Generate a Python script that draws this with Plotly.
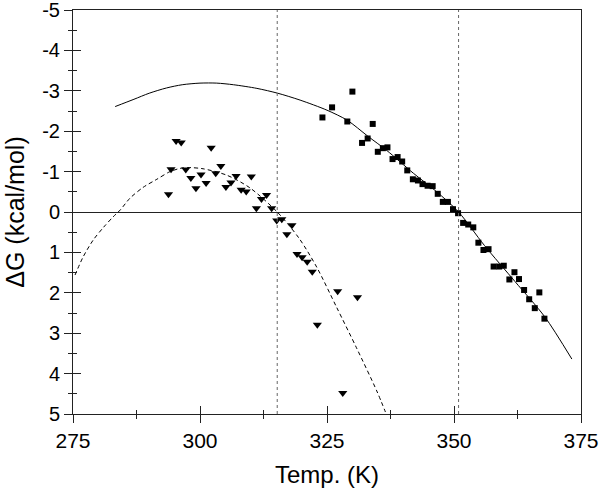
import plotly.graph_objects as go

# Squares (first data set)
sq_T = [324.1, 326.0, 330.0, 329.0, 334.0, 331.9, 333.0, 335.0, 336.0, 336.9,
        337.9, 338.9, 339.8, 340.8, 341.9, 342.9, 343.8, 344.8, 345.8, 346.8,
        347.8, 348.8, 349.8, 350.8, 351.8, 352.8, 353.8, 354.8, 355.8, 356.8,
        357.8, 358.9, 359.8, 360.9, 361.9, 362.8, 363.8, 364.8, 365.9, 366.8, 367.8]
sq_G = [-2.34, -2.59, -2.98, -2.24, -2.18, -1.71, -1.82, -1.49, -1.58, -1.60,
        -1.31, -1.36, -1.25, -1.03, -0.81, -0.78, -0.69, -0.65, -0.64, -0.45,
        -0.25, -0.25, -0.07, 0.03, 0.27, 0.31, 0.38, 0.76, 0.94, 0.92,
        1.35, 1.35, 1.33, 1.67, 1.49, 1.66, 1.93, 2.16, 2.38, 1.99, 2.64]

# Triangles (second data set)
tr_T = [293.8, 294.3, 295.3, 296.3, 297.2, 298.2, 299.2, 300.2, 301.2, 302.2,
        303.1, 304.1, 305.1, 306.1, 307.1, 308.1, 309.1, 310.1, 311.1, 312.1,
        313.1, 314.1, 315.1, 316.1, 317.1, 318.1, 319.1, 320.1, 321.1, 322.1,
        323.1, 327.1, 328.1, 331.0]
tr_G = [-0.44, -1.06, -1.76, -1.72, -1.05, -0.84, -0.59, -0.93, -0.72, -1.59,
        -0.96, -1.14, -0.62, -0.73, -0.89, -0.55, -0.51, -0.88, -0.09, -0.32,
        -0.42, -0.09, 0.21, 0.18, 0.55, 0.33, 1.04, 1.12, 1.23, 1.48,
        2.79, 1.96, 4.48, 2.11]

# Fitted curves
fit1_T = [283.3, 287.0, 290.0, 293.4, 296.5, 300.0, 303.3, 306.6, 311.2, 315.3, 319.7, 325.0,
          329.0, 333.0, 336.8, 342.0, 346.6, 350.9, 356.0, 362.0, 367.9, 373.2]
fit1_G = [-2.61, -2.79, -2.94, -3.07, -3.15, -3.19, -3.19, -3.15, -3.06, -2.94, -2.77, -2.52,
          -2.27, -1.88, -1.52, -0.96, -0.50, 0.0, 0.83, 1.72, 2.6, 3.64]

fit2_T = [275.4, 277.0, 279.0, 281.0, 282.9, 284.3, 286.2, 288.8, 291.5, 294.1,
          296.1, 297.6, 300.6, 305.3, 309.8, 315.2, 319.5, 323.0, 326.9, 330.8,
          334.8, 336.5]
fit2_G = [1.56, 1.11, 0.69, 0.38, 0.12, -0.05, -0.34, -0.61, -0.81, -1.00,
          -1.08, -1.10, -1.07, -0.91, -0.60, 0.0, 0.65, 1.37, 2.36, 3.36,
          4.43, 4.95]

vlines = [315.2, 350.9]

x_ticks = [275, 300, 325, 350, 375]
y_ticks = [-5, -4, -3, -2, -1, 0, 1, 2, 3, 4, 5]
x_ticktext = ["275", "300", "325", "350", "375"]
y_ticktext = ["-5", "-4", "-3", "-2", "-1", "0", "1", "2", "3", "4", "5"]

FONT = "Liberation Sans, Arial, sans-serif"
AX = "#222222"

fig = go.Figure()
fig.add_trace(go.Scatter(x=fit1_T, y=fit1_G, mode="lines",
                         line=dict(color="black", width=1, shape="spline", smoothing=0.8),
                         showlegend=False, hoverinfo="skip"))
fig.add_trace(go.Scatter(x=fit2_T, y=fit2_G, mode="lines",
                         line=dict(color="black", width=1, dash="4px,3px", shape="spline", smoothing=0.8),
                         showlegend=False, hoverinfo="skip"))
fig.add_trace(go.Scatter(x=sq_T, y=sq_G, mode="markers",
                         marker=dict(symbol="square", size=6, color="black"), showlegend=False))
fig.add_trace(go.Scatter(x=tr_T, y=tr_G, mode="markers",
                         marker=dict(symbol="triangle-down", size=8, color="black"), showlegend=False))
# dummy trace so the overlay axes (inner halves of the crossing ticks) are drawn
fig.add_trace(go.Scatter(x=[None], y=[None], xaxis="x2", yaxis="y2", showlegend=False, hoverinfo="skip"))

for v in vlines:
    fig.add_vline(x=v, line=dict(color="#666666", width=1, dash="dot"))

common_x = dict(range=[275, 375], tickmode="array", tickvals=x_ticks, showgrid=False, zeroline=False,
                linecolor=AX, linewidth=1, tickcolor=AX, tickwidth=1, automargin=False, mirror=True)
common_y = dict(range=[5, -5], tickmode="array", tickvals=y_ticks, showgrid=False,
                linecolor=AX, linewidth=1, tickcolor=AX, tickwidth=1, automargin=False, mirror=True)

fig.update_layout(
    width=600, height=495,
    margin=dict(l=73, r=19, t=10, b=81),
    paper_bgcolor="white", plot_bgcolor="white",
    font=dict(family=FONT, color="black", size=21),
    xaxis=dict(**common_x, ticks="outside", ticklen=8,
               ticktext=x_ticktext, tickfont=dict(size=21), ticklabeloverflow="allow",
               minor=dict(tickmode="linear", dtick=12.5, tick0=275, ticks="outside", ticklen=4, tickcolor=AX),
               title=dict(text="Temp. (K)", font=dict(size=24), standoff=14)),
    yaxis=dict(**common_y, ticks="outside", ticklen=8,
               ticktext=y_ticktext, ticklabeloverflow="allow",
               zeroline=True, zerolinecolor=AX, zerolinewidth=1,
               tickfont=dict(size=20),
               minor=dict(tickmode="linear", dtick=0.5, tick0=0, ticks="outside", ticklen=4, tickcolor=AX),
               title=dict(text="ΔG (kcal/mol)", font=dict(size=25), standoff=10)),
    xaxis2=dict(**common_x, overlaying="x", anchor="y2", side="bottom", ticks="inside", ticklen=8,
                showticklabels=False,
                minor=dict(tickmode="linear", dtick=12.5, tick0=275, ticks="inside", ticklen=4, tickcolor=AX)),
    yaxis2=dict(**common_y, overlaying="y", anchor="x2", side="left", ticks="inside", ticklen=8,
                showticklabels=False, zeroline=False,
                minor=dict(tickmode="linear", dtick=0.5, tick0=0, ticks="inside", ticklen=4, tickcolor=AX)),
)

fig.write_html("out.html", config={"displayModeBar": False},
               post_script="document.body.style.margin='0';document.body.style.overflow='hidden';")
